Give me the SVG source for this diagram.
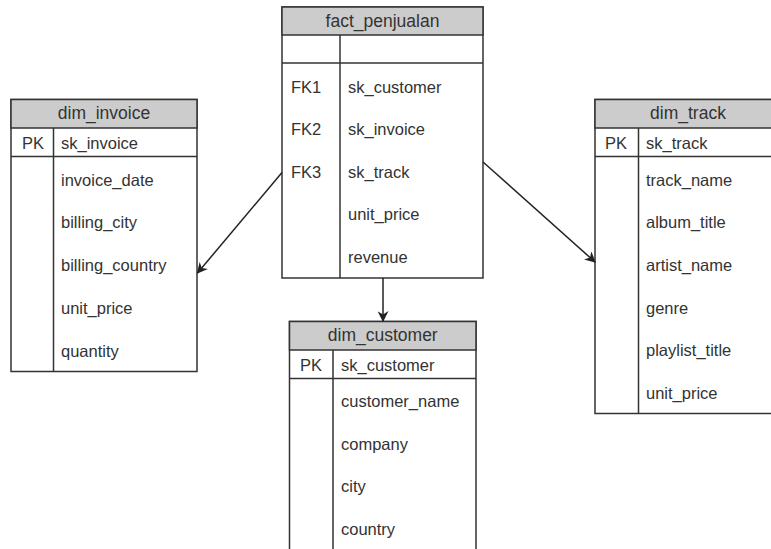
<svg xmlns="http://www.w3.org/2000/svg" width="771" height="549" viewBox="0 0 771 549">
<defs>
<style>
.box{fill:#ffffff;stroke:#333333;stroke-width:1.5}
.hdr{fill:#cccccc;stroke:#333333;stroke-width:1.5}
.ln{stroke:#333333;stroke-width:1.5;fill:none}
text{font-family:"Liberation Sans",Arial,sans-serif;font-size:16.5px;fill:#333333}
.t{text-anchor:middle;font-size:17.5px}
.edge{stroke:#222222;stroke-width:1.5;fill:none;marker-end:url(#arr)}
</style>
<marker id="arr" viewBox="0 0 10 10" refX="9" refY="5" markerWidth="11" markerHeight="11" markerUnits="userSpaceOnUse" orient="auto">
<path d="M0,0 L10,5 L0,10 L3,5 Z" fill="#222222"/>
</marker>
</defs>
<rect width="771" height="549" fill="#ffffff"/>

<g id="fact_penjualan">
<rect class="box" x="282" y="7" width="201" height="271"/>
<rect class="hdr" x="282" y="7" width="201" height="28"/>
<line class="ln" x1="282" y1="63" x2="483" y2="63"/>
<line class="ln" x1="340" y1="35" x2="340" y2="278"/>
<text class="t" x="382.5" y="26.5">fact_penjualan</text>
<text x="291" y="92.5">FK1</text><text x="348" y="92.5">sk_customer</text>
<text x="291" y="135">FK2</text><text x="348" y="135">sk_invoice</text>
<text x="291" y="177.5">FK3</text><text x="348" y="177.5">sk_track</text>
<text x="348" y="220">unit_price</text>
<text x="348" y="262.5">revenue</text>
</g>

<g id="dim_invoice">
<rect class="box" x="11" y="99.5" width="186" height="272"/>
<rect class="hdr" x="11" y="99.5" width="186" height="28.5"/>
<line class="ln" x1="11" y1="156.5" x2="197" y2="156.5"/>
<line class="ln" x1="53.5" y1="128" x2="53.5" y2="371.5"/>
<text class="t" x="104" y="119">dim_invoice</text>
<text x="22" y="148.5">PK</text><text x="61" y="148.5">sk_invoice</text>
<text x="61" y="185.5">invoice_date</text>
<text x="61" y="228">billing_city</text>
<text x="61" y="271">billing_country</text>
<text x="61" y="313.5">unit_price</text>
<text x="61" y="356.5">quantity</text>
</g>

<g id="dim_track">
<rect class="box" x="595" y="99.5" width="186" height="314"/>
<rect class="hdr" x="595" y="99.5" width="186" height="28.5"/>
<line class="ln" x1="595" y1="156.5" x2="781" y2="156.5"/>
<line class="ln" x1="638.5" y1="128" x2="638.5" y2="413.5"/>
<text class="t" x="688" y="119">dim_track</text>
<text x="605" y="148.5">PK</text><text x="646" y="148.5">sk_track</text>
<text x="646" y="185.5">track_name</text>
<text x="646" y="228">album_title</text>
<text x="646" y="271">artist_name</text>
<text x="646" y="313.5">genre</text>
<text x="646" y="356">playlist_title</text>
<text x="646" y="398.5">unit_price</text>
</g>

<g id="dim_customer">
<rect class="box" x="289.5" y="321.5" width="186.5" height="240"/>
<rect class="hdr" x="289.5" y="321.5" width="186.5" height="28.5"/>
<line class="ln" x1="289.5" y1="378.5" x2="476" y2="378.5"/>
<line class="ln" x1="333" y1="350" x2="333" y2="561"/>
<text class="t" x="382.75" y="341">dim_customer</text>
<text x="300" y="370.5">PK</text><text x="341" y="370.5">sk_customer</text>
<text x="341" y="407">customer_name</text>
<text x="341" y="449.5">company</text>
<text x="341" y="492">city</text>
<text x="341" y="535">country</text>
</g>

<g id="connectors">
<path class="edge" d="M282,172.5 L197.5,273"/>
<path class="edge" d="M483,162 L595,262"/>
<path class="edge" d="M383,278 L383,321"/>
</g>
</svg>
